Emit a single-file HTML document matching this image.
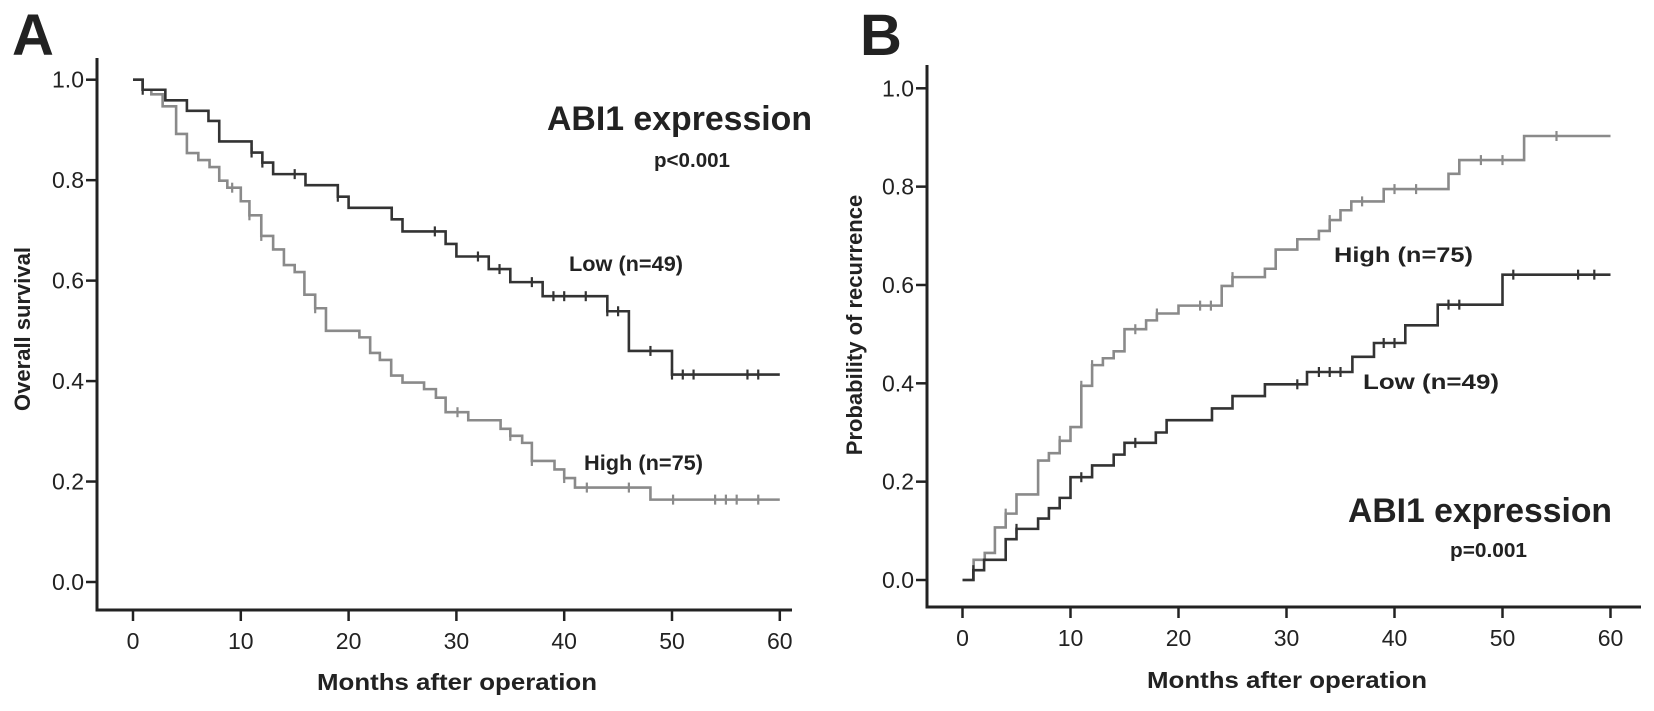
<!DOCTYPE html>
<html><head><meta charset="utf-8"><style>
html,body{margin:0;padding:0;background:#fff}
svg{display:block}
text{font-family:"Liberation Sans",Arial,sans-serif;fill:#222}
</style></head><body>
<svg id="fig" width="1654" height="711" viewBox="0 0 1654 711" xmlns="http://www.w3.org/2000/svg">
<text x="12" y="55" font-size="58" font-weight="bold">A</text>
<text x="860" y="55" font-size="58" font-weight="bold">B</text>
<g id="pa"></g>
<g id="pb"></g>
<text x="0" y="0" transform="translate(30,329) rotate(-90)" text-anchor="middle" font-size="22" font-weight="bold">Overall survival</text>
<text x="0" y="0" transform="translate(862,325) rotate(-90)" text-anchor="middle" font-size="22" font-weight="bold">Probability of recurrence</text>
<text x="457" y="690" text-anchor="middle" font-size="23" font-weight="bold" textLength="280" lengthAdjust="spacingAndGlyphs">Months after operation</text>
<text x="1287" y="688" text-anchor="middle" font-size="23" font-weight="bold" textLength="280" lengthAdjust="spacingAndGlyphs">Months after operation</text>
<text x="547" y="130" font-size="34" font-weight="bold" textLength="265" lengthAdjust="spacingAndGlyphs">ABI1 expression</text>
<text x="654" y="167" font-size="20" font-weight="bold" textLength="76" lengthAdjust="spacingAndGlyphs">p&lt;0.001</text>
<text x="569" y="271" font-size="21" font-weight="bold" textLength="114" lengthAdjust="spacingAndGlyphs">Low (n=49)</text>
<text x="584" y="470" font-size="21" font-weight="bold" textLength="119" lengthAdjust="spacingAndGlyphs">High (n=75)</text>
<text x="1348" y="522" font-size="34" font-weight="bold" textLength="264" lengthAdjust="spacingAndGlyphs">ABI1 expression</text>
<text x="1450" y="557" font-size="20" font-weight="bold" textLength="77" lengthAdjust="spacingAndGlyphs">p=0.001</text>
<text x="1334" y="262" font-size="21" font-weight="bold" textLength="139" lengthAdjust="spacingAndGlyphs">High (n=75)</text>
<text x="1363" y="389" font-size="21" font-weight="bold" textLength="136" lengthAdjust="spacingAndGlyphs">Low (n=49)</text>
</svg>
<script>
const NS = "http://www.w3.org/2000/svg";
const xTicks = [0,10,20,30,40,50,60];
const yTicks = [0,0.2,0.4,0.6,0.8,1.0];
const yTickLabels = ["0.0","0.2","0.4","0.6","0.8","1.0"];
// Panel A: overall survival
const aLowTimes = [0,0.9,3,5,7,8,11,12,13,16,19,20,24,25,29,30,33,35,38,44,46,50,60];
const aLowVals  = [1,0.98,0.959,0.938,0.918,0.877,0.855,0.835,0.812,0.79,0.767,0.745,0.722,0.698,0.673,0.648,0.623,0.597,0.569,0.539,0.46,0.413,0.413];
const aLowCens  = [0.9,11,12,15,19,28,32,34,37,39,40,42,44,45,48,50,51,52,57,58];
const aHighTimes = [0,0.88,1.7,2.75,4,5,6.06,7.1,8,8.75,10,10.8,11.9,13,14,15,15.9,16.9,17.9,21,22,22.9,23.95,25,27,28.1,29,31.1,34.1,35,36.1,37,39.1,40,41,48,60];
const aHighVals  = [1,0.98,0.971,0.947,0.892,0.854,0.84,0.826,0.799,0.785,0.758,0.73,0.689,0.662,0.631,0.617,0.572,0.545,0.5,0.487,0.456,0.442,0.411,0.397,0.384,0.367,0.338,0.322,0.305,0.291,0.277,0.241,0.224,0.207,0.188,0.164,0.164];
const aHighCens  = [9.2,10.8,11.9,16.9,30.1,35,37,40,42.1,46,50.1,54,55,56,58];
// Panel B: recurrence
const bHighTimes = [0,1.03,2.06,3,4,5,7,8,9,10,11,12,13,14,15,17,18,20,24,25,28,29,31,33,34,35,36,39,45,46,52,60];
const bHighVals  = [0,0.041,0.055,0.107,0.135,0.174,0.243,0.258,0.283,0.311,0.395,0.437,0.451,0.465,0.51,0.528,0.542,0.558,0.598,0.616,0.633,0.672,0.693,0.71,0.732,0.752,0.77,0.795,0.826,0.854,0.903,0.903];
const bHighCens  = [4,9,11,12,16,18,22,23,25,34,37,40,42,48,50,55];
const bLowTimes = [0,1,2,4,5,7,8,9,10,12,14,15,17.9,18.9,23.1,25,28,31.9,36.1,38.1,41,44,50,60];
const bLowVals  = [0,0.02,0.041,0.083,0.104,0.125,0.146,0.167,0.209,0.233,0.255,0.279,0.3,0.325,0.349,0.374,0.398,0.423,0.454,0.482,0.518,0.56,0.621,0.621];
const bLowCens  = [1,5,11,16,31,33,34,35,39,40,45,46,51,57,58.5];

function mk(tag, attrs, parent){const e=document.createElementNS(NS,tag);for(const k in attrs)e.setAttribute(k,attrs[k]);parent.appendChild(e);return e;}

function panel(gid, cfg, series){
  const g=document.getElementById(gid);
  const X=t=>cfg.x0+t*cfg.px;
  const Y=v=>cfg.y0-v*cfg.py;
  const ya=mk('line',{x1:cfg.ax,y1:cfg.top,x2:cfg.ax,y2:cfg.xaxY,stroke:'#222','stroke-width':3},g);
  
  
  const xa=mk('line',{x1:cfg.ax-1.5,y1:cfg.xaxY,x2:cfg.right,y2:cfg.xaxY,stroke:'#222','stroke-width':3},g);
  
  
  yTicks.forEach((v,i)=>{
    const tk=mk('line',{x1:cfg.ax-11,y1:Y(v),x2:cfg.ax,y2:Y(v),stroke:'#222','stroke-width':2.5},g);
    
    
    const tl=mk('text',{x:cfg.ax-13,y:Y(v)+8,'text-anchor':'end','font-size':23},g);
    tl.textContent=yTickLabels[i];
    
    
  });
  xTicks.forEach(t=>{
    const tk=mk('line',{x1:X(t),y1:cfg.xaxY,x2:X(t),y2:cfg.xaxY+11,stroke:'#222','stroke-width':2.5},g);
    
    
    const tl=mk('text',{x:X(t),y:cfg.xaxY+39,'text-anchor':'middle','font-size':23},g);
    tl.textContent=String(t);
    
    
  });
  series.forEach(s=>{
    let d='M'+X(s.t[0])+','+Y(s.v[0]);
    for(let i=1;i<s.t.length;i++){d+=' H'+X(s.t[i])+' V'+Y(s.v[i]);}
    const p=mk('path',{d:d,fill:'none',stroke:s.c,'stroke-width':2.6},g);
    
    
    s.cens.forEach(ct=>{
      let v=s.v[0];
      for(let i=0;i<s.t.length;i++){if(s.t[i]<=ct)v=s.v[i];}
      const m=mk('line',{x1:X(ct),y1:Y(v)-5,x2:X(ct),y2:Y(v)+5,stroke:s.c,'stroke-width':2.2},g);
      
      
    });
  });
}
panel('pa',{p:'panel-a',x0:133,px:10.78,y0:582,py:502.3,ax:97,top:58,xaxY:610,right:792},
  [{n:'high',t:aHighTimes,v:aHighVals,cens:aHighCens,c:'#8a8a8a'},
   {n:'low',t:aLowTimes,v:aLowVals,cens:aLowCens,c:'#333'}]);
panel('pb',{p:'panel-b',x0:962.5,px:10.8,y0:580,py:491.7,ax:927,top:65,xaxY:607,right:1641},
  [{n:'high',t:bHighTimes,v:bHighVals,cens:bHighCens,c:'#8a8a8a'},
   {n:'low',t:bLowTimes,v:bLowVals,cens:bLowCens,c:'#333'}]);
</script>
</body></html>
